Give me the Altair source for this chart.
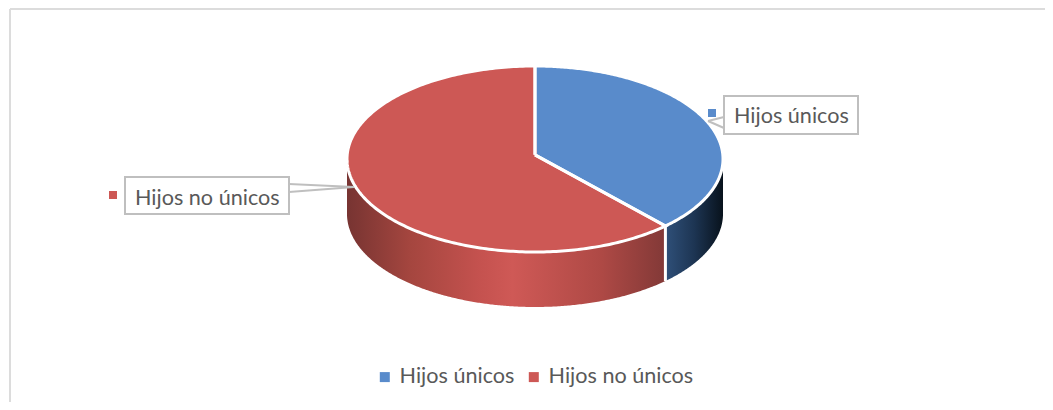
import numpy as np
import pandas as pd
import altair as alt

labels = ["Hijos únicos", "Hijos no únicos"]
shares = [37.8, 62.2]
top_colors = ["#598BCB", "#CD5855"]

W, H = 1037, 394
OFF = 8
CX, CY, RX, RY, DEPTH = 535, 159, 188, 93, 55
APEX = 0.045  # wedge tip sits a little above the ellipse centre (perspective)


def px(v):
    return v - OFF


# Scales: one pie radius in data units, the ellipse comes from the scale ranges
x_scale = alt.Scale(domain=[(OFF - CX) / RX, (OFF + W - CX) / RX], range=[0, W], nice=False, zero=False)
y_scale = alt.Scale(domain=[(CY - OFF - H) / RY, (CY - OFF) / RY], range=[H, 0], nice=False, zero=False)
D = DEPTH / RY

split = 2 * np.pi * shares[0] / sum(shares)
sx, sy = np.sin(split), np.cos(split)


def rim(a, b, n=240):
    t = np.linspace(a, b, n)
    return np.sin(t), np.cos(t)


def spoke(x):
    return APEX + x * (sy - APEX) / sx


# Upper / lower outline of each top wedge, as area rows
bx = np.sin(np.linspace(0, np.pi / 2, 200))
blue_x = np.unique(np.concatenate([bx, [sx]]))
blue_top = np.sqrt(np.clip(1 - blue_x**2, 0, 1))
blue_bot = np.where(blue_x <= sx, spoke(blue_x), -blue_top)

rx_left = -np.cos(np.linspace(0, np.pi / 2, 200))
rx_right = np.linspace(0, sx, 80)
red_x = np.unique(np.concatenate([rx_left, rx_right]))
circ = np.sqrt(np.clip(1 - red_x**2, 0, 1))
red_top = np.where(red_x <= 0, circ, spoke(red_x))
red_bot = -circ

top = pd.concat([
    pd.DataFrame({"x": blue_x, "y": blue_top, "y2": blue_bot, "slice": labels[0]}),
    pd.DataFrame({"x": red_x, "y": red_top, "y2": red_bot, "slice": labels[1]}),
])

# Side walls
bs = blue_x[blue_x >= sx]
side_blue = pd.DataFrame({"x": bs, "y": -np.sqrt(np.clip(1 - bs**2, 0, 1))})
side_blue["y2"] = side_blue["y"] - D
rs = red_x
side_red = pd.DataFrame({"x": rs, "y": -np.sqrt(np.clip(1 - rs**2, 0, 1))})
side_red["y2"] = side_red["y"] - D

# White outlines
xa, ya = rim(0, split)
xb, yb = rim(split, 2 * np.pi)
outline = pd.concat([
    pd.DataFrame({"x": np.r_[0, xa, 0], "y": np.r_[APEX, ya, APEX], "g": "a"}),
    pd.DataFrame({"x": np.r_[0, xb, 0], "y": np.r_[APEX, yb, APEX], "g": "b"}),
    pd.DataFrame({"x": [sx, sx], "y": [sy, sy - D], "g": "c"}),
]).reset_index(drop=True)
outline["o"] = outline.index

X = alt.X("x:Q", scale=x_scale, axis=None)
Y = alt.Y("y:Q", scale=y_scale, axis=None)


def grad(stops):
    return alt.Gradient(
        gradient="linear", x1=0, x2=1, y1=0, y2=0,
        stops=[alt.GradientStop(color=c, offset=o) for o, c in stops],
    )


red_side = alt.Chart(side_red).mark_area(color=grad([
    (0, "#773432"), (0.2, "#A5463F"), (0.42, "#C5524F"), (0.52, "#CF5956"),
    (0.8, "#AE4945"), (1, "#823937"),
])).encode(x=X, y=Y, y2="y2:Q")

blue_side = alt.Chart(side_blue).mark_area(color=grad([
    (0, "#2F5079"), (0.5, "#1D3553"), (1, "#08121C"),
])).encode(x=X, y=Y, y2="y2:Q")

tops = alt.Chart(top).mark_area().encode(
    x=X, y=Y, y2="y2:Q",
    color=alt.Color("slice:N", sort=labels,
                    scale=alt.Scale(domain=labels, range=top_colors),
                    legend=alt.Legend(
                        orient="none", legendX=px(374), legendY=px(366),
                        direction="horizontal", title=None, symbolType="square",
                        symbolSize=100, symbolStrokeWidth=0, labelFont="Lato",
                        labelFontSize=21.6, labelColor="#595959", labelOffset=4,
                        columnPadding=8, padding=0,
                    )),
)

lines = alt.Chart(outline).mark_line(color="white", strokeWidth=3).encode(
    x=X, y=Y, detail="g:N", order="o:Q")

one = pd.DataFrame({"a": [0]})
GRAY = "#BFBFBF"


def rule(x1, y1, x2, y2, color=GRAY, w=2):
    return alt.Chart(one).mark_rule(color=color, strokeWidth=w).encode(
        x=alt.value(px(x1)), x2=alt.value(px(x2)), y=alt.value(px(y1)), y2=alt.value(px(y2)))


def box(x1, y1, x2, y2):
    return alt.Chart(one).mark_rect(fill="white", stroke=GRAY, strokeWidth=2).encode(
        x=alt.value(px(x1)), x2=alt.value(px(x2)), y=alt.value(px(y1)), y2=alt.value(px(y2)))


def label(name, x, y):
    return alt.Chart(pd.DataFrame({"t": [name]})).mark_text(
        font="Lato", fontSize=21.6, color="#595959", align="left", baseline="alphabetic"
    ).encode(x=alt.value(px(x)), y=alt.value(px(y)), text="t:N")


def square(color, x, y):
    return alt.Chart(one).mark_square(color=color, size=64, opacity=1).encode(
        x=alt.value(px(x)), y=alt.value(px(y)))


chart = alt.layer(
    rule(10, 9, 1045, 9, "#DCDCDC"),
    rule(10, 9, 10, 402, "#DCDCDC"),
    red_side, blue_side, tops, lines,
    rule(289, 184, 354, 187),
    rule(289, 192, 354, 187),
    rule(724, 117, 708, 121),
    rule(724, 128, 708, 121),
    box(125, 177, 289, 214),
    box(724, 96, 858, 134),
    label(labels[1], 135, 205),
    label(labels[0], 734, 123),
    square(top_colors[0], 712, 113),
    square(top_colors[1], 113, 195),
).properties(
    width=W, height=H, padding=0, autosize=alt.AutoSizeParams(type="none")
).configure_view(strokeWidth=0).resolve_scale(x="shared", y="shared")

chart.save("out.html", embed_options={"renderer": "svg", "actions": False})
